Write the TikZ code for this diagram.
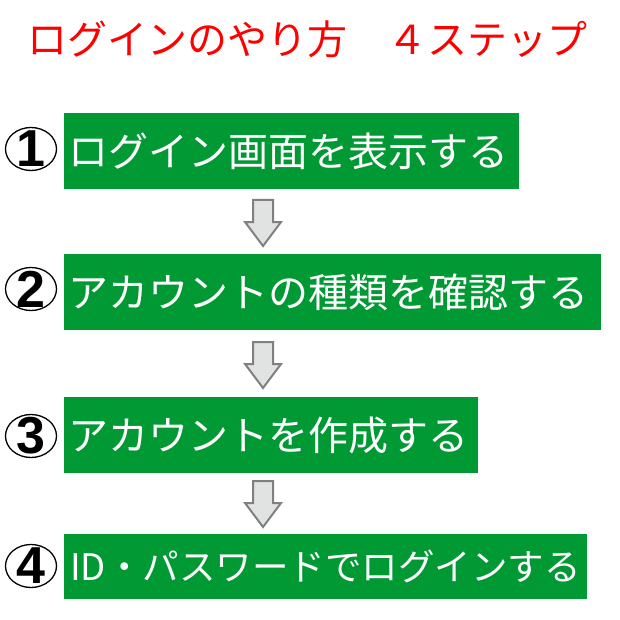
\documentclass[tikz,border=0pt]{standalone}
\usepackage{fontspec}
\usetikzlibrary{shapes.geometric}
\newfontfamily\jp{Noto Sans CJK JP}
\newfontfamily\numfont{Liberation Sans}
\definecolor{stepgreen}{RGB}{0,153,51}
\definecolor{titlered}{RGB}{255,0,0}
\definecolor{arrowline}{RGB}{128,128,128}
\definecolor{arrowfill}{RGB}{225,227,226}
\begin{document}
\begin{tikzpicture}[x=1pt,y=-1pt,
  greenbox/.style={fill=stepgreen, draw=none, inner sep=0pt, anchor=north west},
  steptext/.style={text=white, font=\jp\fontsize{40}{40}\selectfont, inner sep=0pt, anchor=west},
  numcirc/.style={draw=black, line width=1.3pt, ellipse, minimum width=51, minimum height=43, inner sep=0pt},
  numtext/.style={font=\numfont\bfseries\fontsize{52}{52}\selectfont, inner sep=0pt},
  downarrow/.style={draw=arrowline, line width=2pt, fill=arrowfill, line join=miter}
]
\useasboundingbox (0,0) rectangle (620,620);
\fill[white] (0,0) rectangle (620,620);

% title
\node[text=titlered, font=\jp\fontsize{40}{40}\selectfont, inner sep=0pt] (title) at (307,39) {ログインのやり方　４ステップ};

% boxes
\node[greenbox, minimum width=455, minimum height=76] (b1) at (64,113) {};
\node[greenbox, minimum width=537, minimum height=76] (b2) at (64,254) {};
\node[greenbox, minimum width=414, minimum height=76] (b3) at (64,397) {};
\node[greenbox, minimum width=523, minimum height=65] (b4) at (64,534) {};

\node[steptext] (t1) at ([xshift=4]b1.west) {ログイン画面を表示する};
\node[steptext] (t2) at ([xshift=4]b2.west) {アカウントの種類を確認する};
\node[steptext] (t3) at ([xshift=4]b3.west) {アカウントを作成する};
\node[steptext, font=\jp\fontsize{36.5}{36.5}\selectfont] (t4) at ([xshift=6]b4.west) {ID・パスワードでログインする};

% circled numbers
\node[numcirc] (c1) at (31,149) {};
\node[numcirc] (c2) at (31,289) {};
\node[numcirc] (c3) at (31,436) {};
\node[numcirc] (c4) at (31,566) {};
\node[numtext] (n1) at (c1.center) {1};
\node[numtext] (n2) at (c2.center) {2};
\node[numtext] (n3) at (c3.center) {3};
\node[numtext] (n4) at (c4.center) {4};

% arrows
\coordinate (a1) at (263,200);
\coordinate (a2) at (263,342);
\coordinate (a3) at (263,481);
\foreach \a in {a1,a2,a3}{
  \draw[downarrow] (\a) ++(-10,0) -- ++(20,0) -- ++(0,22) -- ++(8,0) -- ++(-18,24) -- ++(-18,-24) -- ++(8,0) -- cycle;
}
\end{tikzpicture}
\end{document}
